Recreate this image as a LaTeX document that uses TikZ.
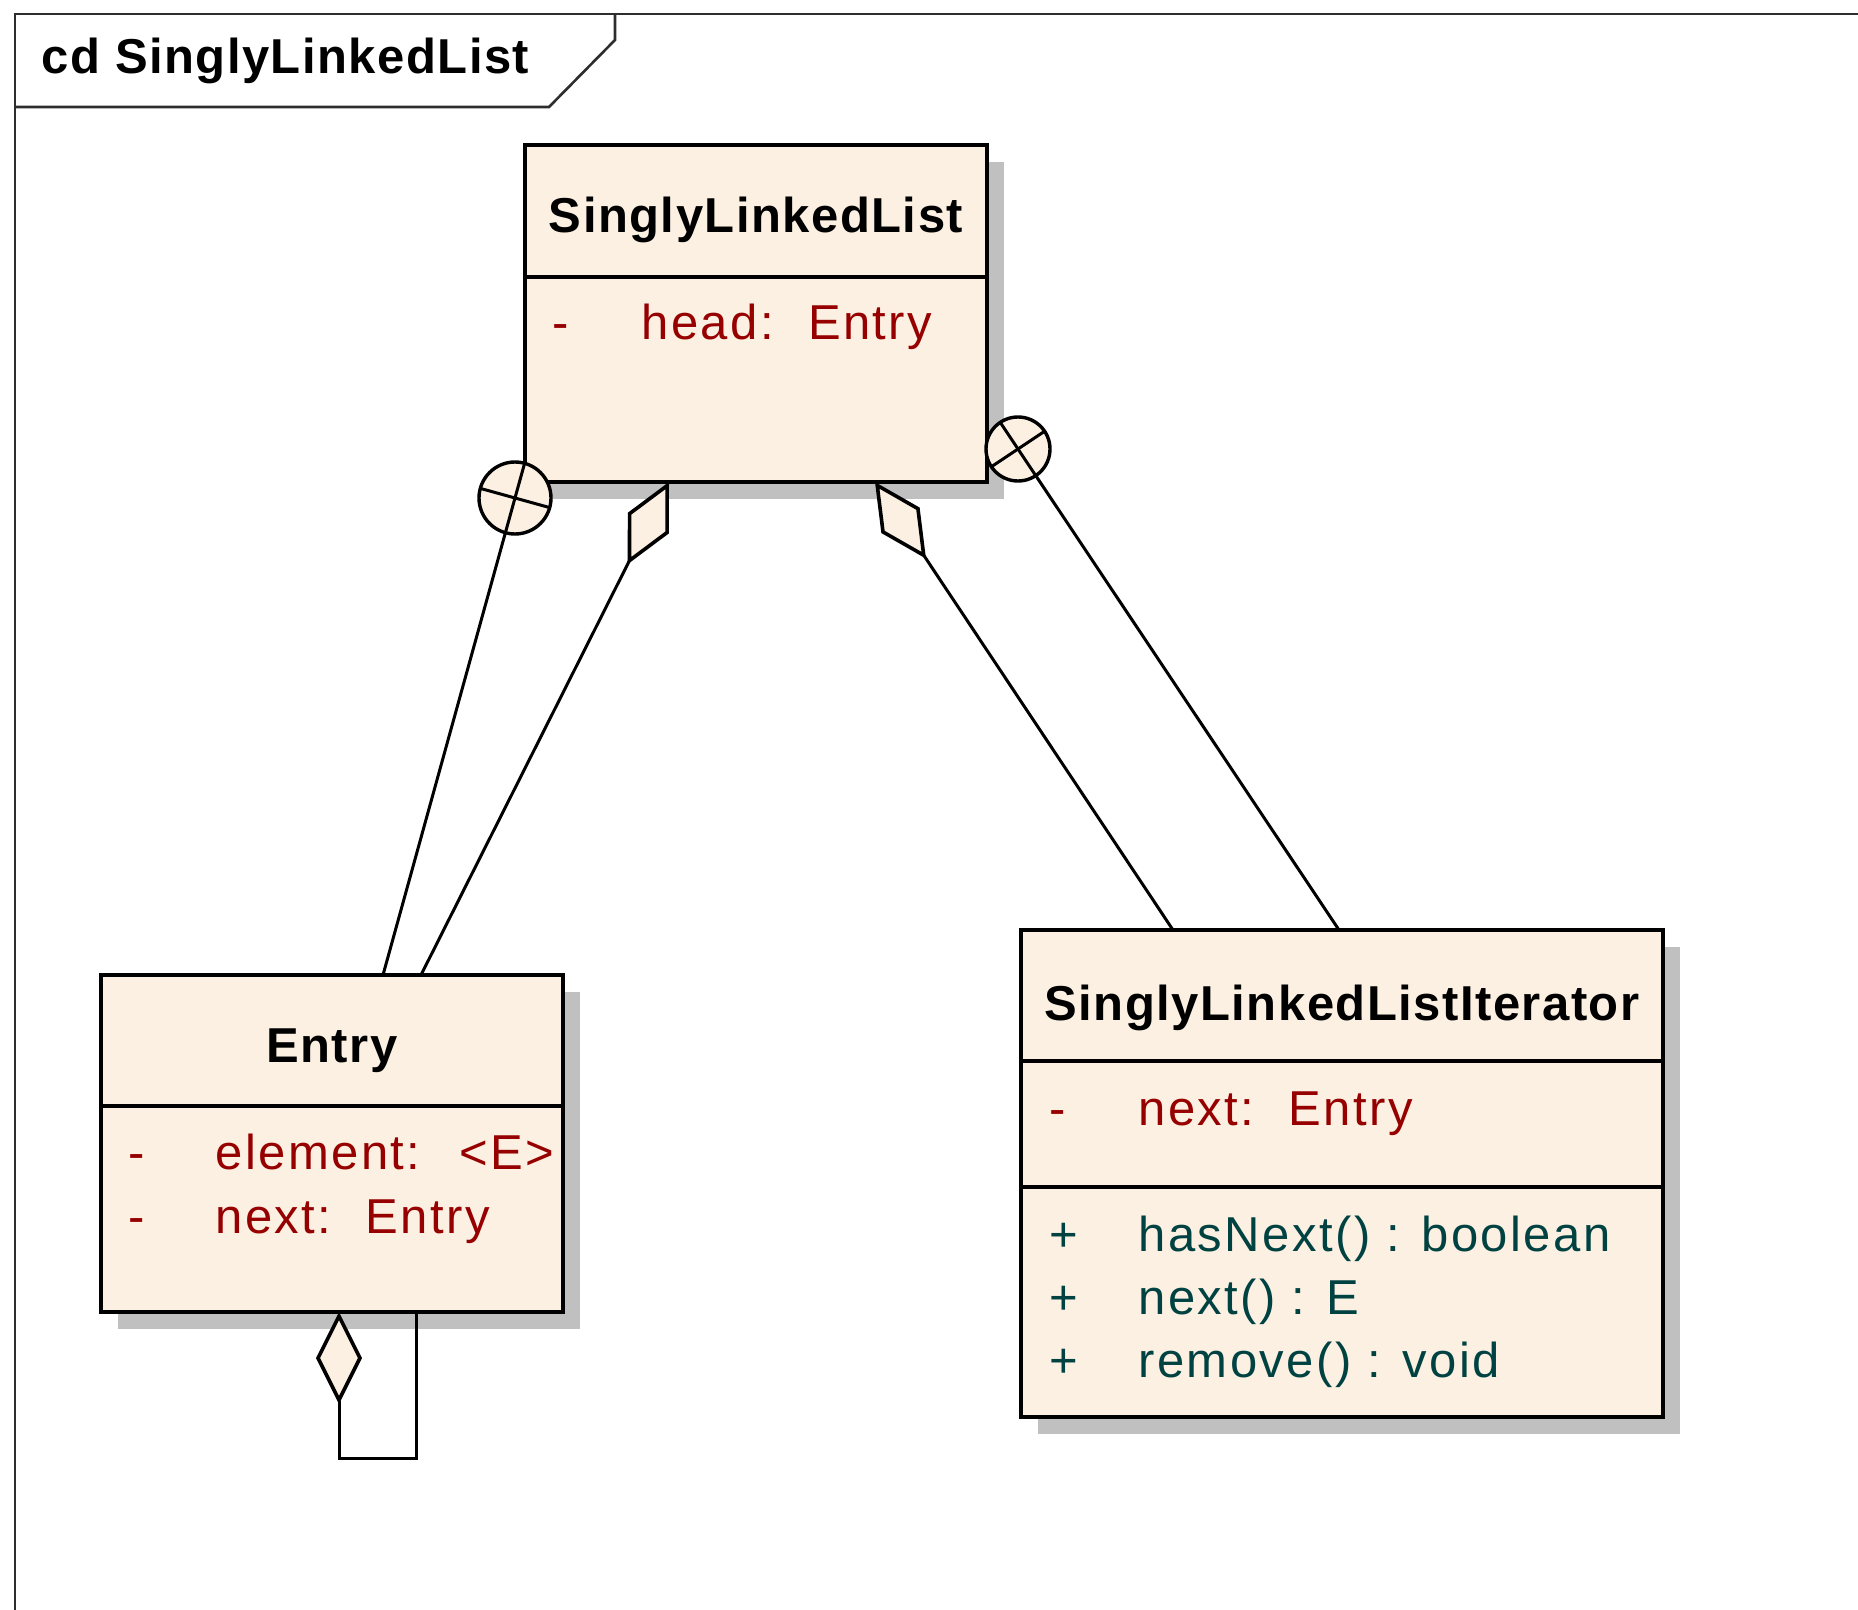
\documentclass[tikz,border=0pt]{standalone}
\usepackage{fontspec}
\setmainfont{Liberation Sans}
\newfontfamily\namefont[LetterSpace=3]{Liberation Sans}
\newfontfamily\featfont[LetterSpace=5]{Liberation Sans}
\usetikzlibrary{calc,arrows.meta,shadows}

\definecolor{boxfill}{RGB}{251,240,225}
\definecolor{shade}{RGB}{192,192,192}
\definecolor{attrcol}{RGB}{150,0,0}
\definecolor{opcol}{RGB}{0,66,66}
\definecolor{framecol}{RGB}{45,45,45}

\begin{document}
\begin{tikzpicture}[x=0.5pt,y=-0.5pt,
  classbox/.style={draw=black, line width=1.8pt, fill=boxfill, rectangle,
    inner sep=0pt, outer sep=0pt, anchor=north west,
    drop shadow={shadow xshift=8.5pt, shadow yshift=-8.5pt, fill=shade, opacity=1}},
  divider/.style={draw=black, line width=1.8pt},
  classname/.style={font=\namefont\bfseries\fontsize{24.5}{29}\selectfont, inner sep=0pt, anchor=base},
  vis/.style={inner sep=0pt, anchor=base west, font=\featfont\fontsize{24.5}{29}\selectfont},
  attr/.style={vis, text=attrcol},
  oper/.style={vis, text=opcol},
  conn/.style={draw=black, line width=1.5pt},
  agg/.style={conn, line join=miter, -{Diamond[length=46pt, width=23pt, fill=boxfill, line width=1.8pt]}},
  nest/.style={circle, draw=black, line width=1.7pt, fill=boxfill, inner sep=0pt, outer sep=0pt},
  crossline/.style={draw=black, line width=1.5pt},
  frameline/.style={draw=framecol, line width=1.3pt}
]
\useasboundingbox (0,0) rectangle (1858,1610);

% diagram frame with its name tab
\draw[frameline] (1858,14) -- (15,14) -- (15,1610);
\draw[frameline] (15,107) -- (549,107) -- (615,40) -- (615,14);
\node[inner sep=0pt, anchor=base west, font=\namefont\bfseries\fontsize{24.5}{29}\selectfont] (frametitle) at (41,74) {cd SinglyLinkedList};

% class SinglyLinkedList
\node[classbox, minimum width=231pt, minimum height=168.5pt] (sll) at (525,145) {};
\draw[divider] (525,277) -- (987,277);
\node[classname] (sllname) at (756,233) {SinglyLinkedList};
\node[attr] (sllvis1) at (552,340) {-};
\node[attr] (sllatt1) at (641,340) {head:\hspace{0.7em}Entry};

% class Entry
\node[classbox, minimum width=231pt, minimum height=168.5pt] (entry) at (101,975) {};
\draw[divider] (101,1106) -- (563,1106);
\node[classname] (entryname) at (332,1062) {Entry};
\node[attr] (entvis1) at (128,1169) {-};
\node[attr] (entatt1) at (215,1169) {element:\hspace{0.8em}<E>};
\node[attr] (entvis2) at (128,1233) {-};
\node[attr] (entatt2) at (215,1233) {next:\hspace{0.7em}Entry};

% class SinglyLinkedListIterator
\node[classbox, minimum width=321pt, minimum height=243.5pt] (iter) at (1021,930) {};
\draw[divider] (1021,1061) -- (1663,1061);
\draw[divider] (1021,1187) -- (1663,1187);
\node[classname] (itername) at (1342,1020) {SinglyLinkedListIterator};
\node[attr] (itvis1) at (1049,1125) {-};
\node[attr] (itatt1) at (1138,1125) {next:\hspace{0.7em}Entry};
\node[oper] (itvis2) at (1049,1251) {+};
\node[oper] (itop1) at (1138,1251) {hasNext() : boolean};
\node[oper] (itvis3) at (1049,1314) {+};
\node[oper] (itop2) at (1138,1314) {next() : E};
\node[oper] (itvis4) at (1049,1377) {+};
\node[oper] (itop3) at (1138,1377) {remove() : void};

% connector end points on the class borders
\coordinate (e1) at ($(entry.north west)+(282,0)$);
\coordinate (e2) at ($(entry.north west)+(320,0)$);
\coordinate (s2) at ($(sll.south west)+(144,0)$);
\coordinate (i1) at ($(iter.north west)+(318,0)$);
\coordinate (i2) at ($(iter.north west)+(152,0)$);
\coordinate (s4) at ($(sll.south west)+(350,0)$);
\coordinate (loopa) at ($(entry.south west)+(315,0)$);
\coordinate (loopb) at ($(entry.south west)+(238,0)$);

% nesting: Entry inside SinglyLinkedList
\node[nest, minimum size=36pt] (nest1) at ($(sll.south west)+(-10,16)$) {};
\draw[conn] (e1) -- (nest1);
\draw[crossline] ($(nest1.center)!18pt!(e1)$) -- ($(nest1.center)!-18pt!(e1)$);
\draw[crossline] ($(nest1.center)!18pt!90:(e1)$) -- ($(nest1.center)!18pt!-90:(e1)$);

% nesting: SinglyLinkedListIterator inside SinglyLinkedList
\node[nest, minimum size=32pt] (nest2) at ($(sll.north east)+(31,304)$) {};
\draw[conn] (i1) -- (nest2);
\draw[crossline] ($(nest2.center)!16pt!(i1)$) -- ($(nest2.center)!-16pt!(i1)$);
\draw[crossline] ($(nest2.center)!16pt!90:(i1)$) -- ($(nest2.center)!16pt!-90:(i1)$);

% aggregations
\draw[agg] (e2) -- (s2);
\draw[agg] (i2) -- (s4);
\draw[agg] (loopa) -- ++(0,146) -| (loopb);
\end{tikzpicture}
\end{document}
